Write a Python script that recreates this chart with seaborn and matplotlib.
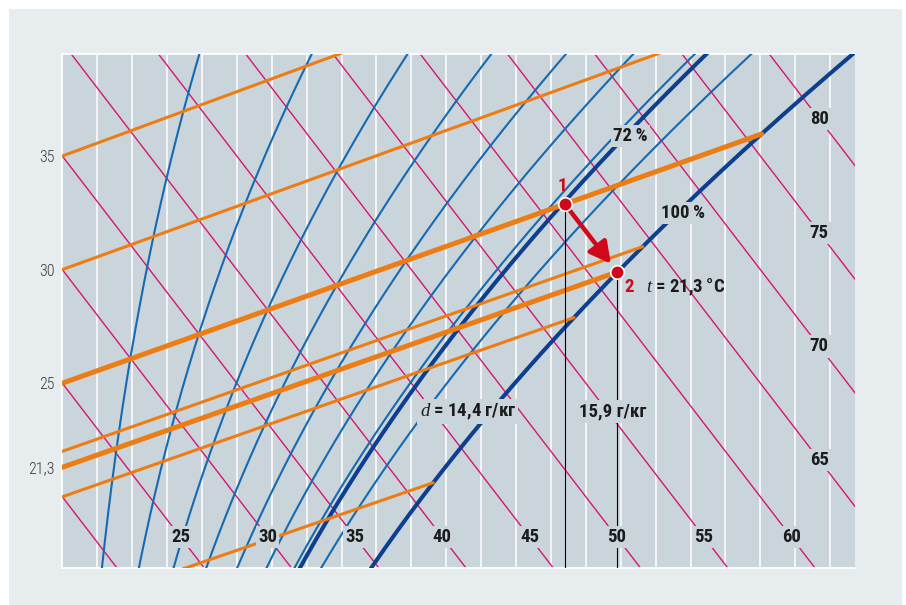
import numpy as np
import pandas as pd
import matplotlib
matplotlib.use("Agg")
import matplotlib.pyplot as plt
from matplotlib.patches import Rectangle
import seaborn as sns

# ---------------- chart content ----------------
isotherms = [35, 30, 25, 22, 21.3, 20, 15]                 # °C
isotherm_bold = [False, False, True, False, True, False, False]
enthalpy_levels = [20, 25, 30, 35, 40, 45, 50, 55, 60, 65, 70, 75, 80]   # kJ/kg
enthalpy_bottom_labels = [25, 30, 35, 40, 45, 50, 55, 60]
enthalpy_side_labels = [65, 70, 75, 80]
rh_levels = [10, 20, 30, 40, 50, 60, 70, 72, 80, 100]      # %
rh_bold = [72, 100]
rh_label_text = ["72\u2009%", "100\u2009%"]
temp_ticks = [35, 30, 25, 21.3]
temp_tick_labels = ["35", "30", "25", "21,3"]
state_names = ["1", "2"]
state_t = [25.0, 21.3]      # °C
state_d = [14.4, 15.9]      # g/kg

# ---------------- colours ----------------
OUTER = "#e7ecef"
PLOT_BG = "#c9d4db"
ORANGE = "#ec7d14"
MAGENTA = "#d6166f"
BLUE = "#1769b0"
DARK_BLUE = "#0d3f8e"
RED = "#d0081c"
INK = "#1c1c1c"

# ---------------- i-d chart geometry ----------------
P_ATM = 101.325   # kPa
SKEW = 2.0        # oblique enthalpy axis, kJ/kg per g/kg
D_MAX = 22.72
Y_MIN, Y_MAX = 16.88, 39.49


def p_sat(t):
    """Saturation vapour pressure, kPa (Magnus)."""
    return 0.61094 * np.exp(17.625 * t / (t + 243.04))


def moisture(t, rh):
    pv = rh / 100.0 * p_sat(t)
    return 622.0 * pv / (P_ATM - pv)


def enthalpy(t, d):
    return t + d * (2.501 + 0.00186 * t)


def chart_y(i, d):
    return i - SKEW * d


# ---------------- line tables ----------------
rows = []
for t, bold in zip(isotherms, isotherm_bold):
    d = np.array([0.0, moisture(t, 100)])
    for dd in d:
        rows.append(dict(kind="iso_bold" if bold else "iso", id=f"t{t}", d=dd,
                         y=chart_y(enthalpy(t, dd), dd)))
for i in enthalpy_levels:
    for dd in (0.0, D_MAX):
        rows.append(dict(kind="enth", id=f"i{i}", d=dd, y=chart_y(i, dd)))
t_grid = np.arange(0.0, 50.0, 0.1)
for rh in rh_levels:
    d = moisture(t_grid, rh)
    y = chart_y(enthalpy(t_grid, d), d)
    kind = "rh_bold" if rh in rh_bold else "rh"
    for dd, yy in zip(d, y):
        rows.append(dict(kind=kind, id=f"rh{rh}", d=dd, y=yy))
lines = pd.DataFrame(rows)

state_i = [enthalpy(t, d) for t, d in zip(state_t, state_d)]
state_y = [chart_y(i, d) for i, d in zip(state_i, state_d)]
states = pd.DataFrame(dict(name=state_names, d=state_d, y=state_y))

# ---------------- figure ----------------
sns.set_theme(style="white")
plt.rcParams["font.family"] = ["Roboto Condensed", "Roboto", "DejaVu Sans"]
plt.rcParams["mathtext.fontset"] = "custom"
plt.rcParams["mathtext.it"] = "Liberation Serif:italic"
plt.rcParams["mathtext.rm"] = "Roboto:bold"

W, H = 906, 605
fig = plt.figure(figsize=(W / 100, H / 100), dpi=100, facecolor="white")
fig.patches.append(Rectangle((9 / W, 0), (902 - 9) / W, (H - 9) / H,
                             transform=fig.transFigure, fc=OUTER, ec="none", zorder=-10))
ax = fig.add_axes([62.3 / W, 1 - 567.7 / H, 793 / W, 513.7 / H])
ax.set_zorder(1)
ax.set_facecolor(PLOT_BG)

styles = {
    "enth": dict(color=MAGENTA, lw=1.0, zorder=2),
    "rh": dict(color=BLUE, lw=1.5, zorder=3),
    "rh_bold": dict(color=DARK_BLUE, lw=2.9, zorder=3.2),
    "iso": dict(color=ORANGE, lw=2.2, zorder=3.5),
    "iso_bold": dict(color=ORANGE, lw=3.6, zorder=3.6),
}
for kind, st in styles.items():
    sub = lines[lines["kind"] == kind]
    sns.lineplot(data=sub, x="d", y="y", units="id", estimator=None, sort=False,
                 ax=ax, legend=False, color=st["color"], linewidth=st["lw"],
                 zorder=st["zorder"])

ax.set_xlim(0, D_MAX)
ax.set_ylim(Y_MIN, Y_MAX)
ax.set_xlabel("")
ax.set_ylabel("")
ax.set_xticks(np.arange(1, 23))
ax.tick_params(axis="x", length=0, labelbottom=False)
ax.grid(axis="x", color="white", linewidth=1.1)
ax.grid(axis="y", visible=False)
ax.set_axisbelow(True)
ax.set_yticks(temp_ticks)
ax.set_yticklabels(temp_tick_labels, fontweight="light")
ax.tick_params(axis="y", length=0, pad=5.5, labelsize=11.5, labelcolor="#3a3a3a")
for side in ("left", "top", "bottom"):
    ax.spines[side].set_color("white")
    ax.spines[side].set_linewidth(1.3)
ax.spines["right"].set_visible(False)

box = dict(boxstyle="square,pad=0.12", fc=PLOT_BG, ec="none")
label_kw = dict(ha="center", va="center", fontsize=13.5, fontweight="bold", color=INK,
                bbox=box, zorder=6)

# enthalpy labels sit on their lines
y_row = 18.23
for i in enthalpy_bottom_labels:
    ax.text((i - y_row) / SKEW, y_row, str(i), **label_kw)
d_col = 21.69
for i in enthalpy_side_labels:
    ax.text(d_col, chart_y(i, d_col), str(i), **label_kw)

# relative-humidity labels
ax.text(16.27, 35.88, rh_label_text[0], **label_kw)
ax.text(17.79, 32.50, rh_label_text[1], **label_kw)

# moisture-content drop lines
for d, y in zip(states["d"], states["y"]):
    ax.plot([d, d], [Y_MIN, y], color="black", lw=0.8, zorder=4)
ax.text(11.62, 23.75, r"$d$ = 14,4 г/кг", **label_kw)
ax.text(15.78, 23.75, "15,9 г/кг", **label_kw)

# process arrow and state points
ax.annotate("", xy=(states["d"][1], states["y"][1]), xytext=(states["d"][0], states["y"][0]),
            arrowprops=dict(arrowstyle="-|>,head_length=0.75,head_width=0.4", color=RED,
                            lw=3.2, shrinkA=4, shrinkB=7.5, mutation_scale=17), zorder=7)
sns.scatterplot(data=states, x="d", y="y", s=95, color=RED, edgecolor="white",
                linewidth=1.2, ax=ax, zorder=8, legend=False)
ax.set_xlabel("")
ax.set_ylabel("")
ax.annotate(states["name"][0], (states["d"][0], states["y"][0]), xytext=(-2.2, 13),
            textcoords="offset points", ha="center", va="center", fontsize=13.5,
            fontweight="bold", color=RED, zorder=9)
ax.annotate(states["name"][1], (states["d"][1], states["y"][1]), xytext=(8.6, -10.8),
            textcoords="offset points", ha="center", va="center", fontsize=13.5,
            fontweight="bold", color=RED, zorder=9)
ax.annotate(r"$t$ = 21,3" + "\u2009°C", (states["d"][1], states["y"][1]), xytext=(21, -10.8),
            textcoords="offset points", ha="left", va="center", fontsize=13.5,
            fontweight="bold", color=INK, zorder=9)

fig.savefig("out.png", dpi=100, facecolor="white")
